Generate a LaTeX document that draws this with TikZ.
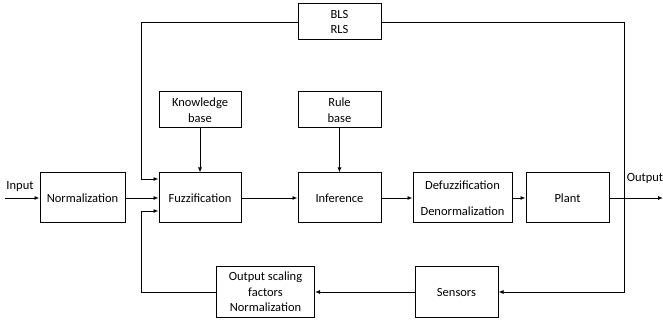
\documentclass[tikz,border=0pt]{standalone}
\usepackage{fontspec}
\setmainfont{Carlito}
\usetikzlibrary{arrows.meta,calc}
\begin{document}
\begin{tikzpicture}[x=1pt,y=-1pt,
  blk/.style={draw, line width=1pt, inner sep=0pt, align=center, font=\fontsize{12.5}{15.5}\selectfont},
  arr/.style={line width=0.9pt, -{Latex[length=5pt,width=4pt]}},
  lbl/.style={inner sep=0pt, font=\fontsize{12.5}{14}\selectfont}]
\useasboundingbox (0,0) rectangle (663,320);
% main row
\node[blk, minimum width=85pt, minimum height=50pt] (norm) at (82.5,198) {Normalization};
\node[blk, minimum width=82pt, minimum height=50pt] (fuzz) at (200,198) {Fuzzification};
\node[blk, minimum width=83pt, minimum height=50pt] (inf) at (339.5,198) {Inference};
\node[blk, minimum width=99pt, minimum height=50pt] (defuzz) at (462.5,198) {Defuzzification\\[10pt]Denormalization};
\node[blk, minimum width=83pt, minimum height=50pt] (plant) at (567.5,198) {Plant};
% upper
\node[blk, minimum width=82pt, minimum height=36pt] (kb) at (200,110) {Knowledge\\base};
\node[blk, minimum width=83pt, minimum height=36pt] (rb) at (339.5,110) {Rule\\base};
\node[blk, minimum width=83pt, minimum height=36pt] (bls) at (339.5,22) {BLS\\RLS};
% lower
\node[blk, minimum width=98pt, minimum height=51pt] (osf) at (265.5,292) {Output scaling\\factors\\Normalization};
\node[blk, minimum width=83pt, minimum height=51pt] (sens) at (456.5,292) {Sensors};
% labels
\node[lbl] (inlbl) at (20,186) {Input};
\node[lbl] (outlbl) at (645,178) {Output};
% coordinates
\coordinate (in) at (5,198);
\coordinate (out) at (663,198);
\coordinate (tl) at (141,22);
\coordinate (tr) at (624,22);
\coordinate (bl) at (141,292);
% connectors
\draw[arr] (in) -- (norm.west);
\draw[arr] (norm.east) -- (fuzz.west);
\draw[arr] (fuzz.east) -- (inf.west);
\draw[arr] (inf.east) -- (defuzz.west);
\draw[arr] (defuzz.east) -- (plant.west);
\draw[arr] (plant.east) -- (out);
\draw[arr] (kb.south) -- (fuzz.north);
\draw[arr] (rb.south) -- (inf.north);
\draw[arr] (bls.west) -- (tl) |- ([yshift=19pt]fuzz.west);
\draw[arr] (bls.east) -- (tr) |- (sens.east);
\draw[arr] (sens.west) -- (osf.east);
\draw[arr] (osf.west) -- (bl) |- ([yshift=-13pt]fuzz.west);
\end{tikzpicture}
\end{document}
